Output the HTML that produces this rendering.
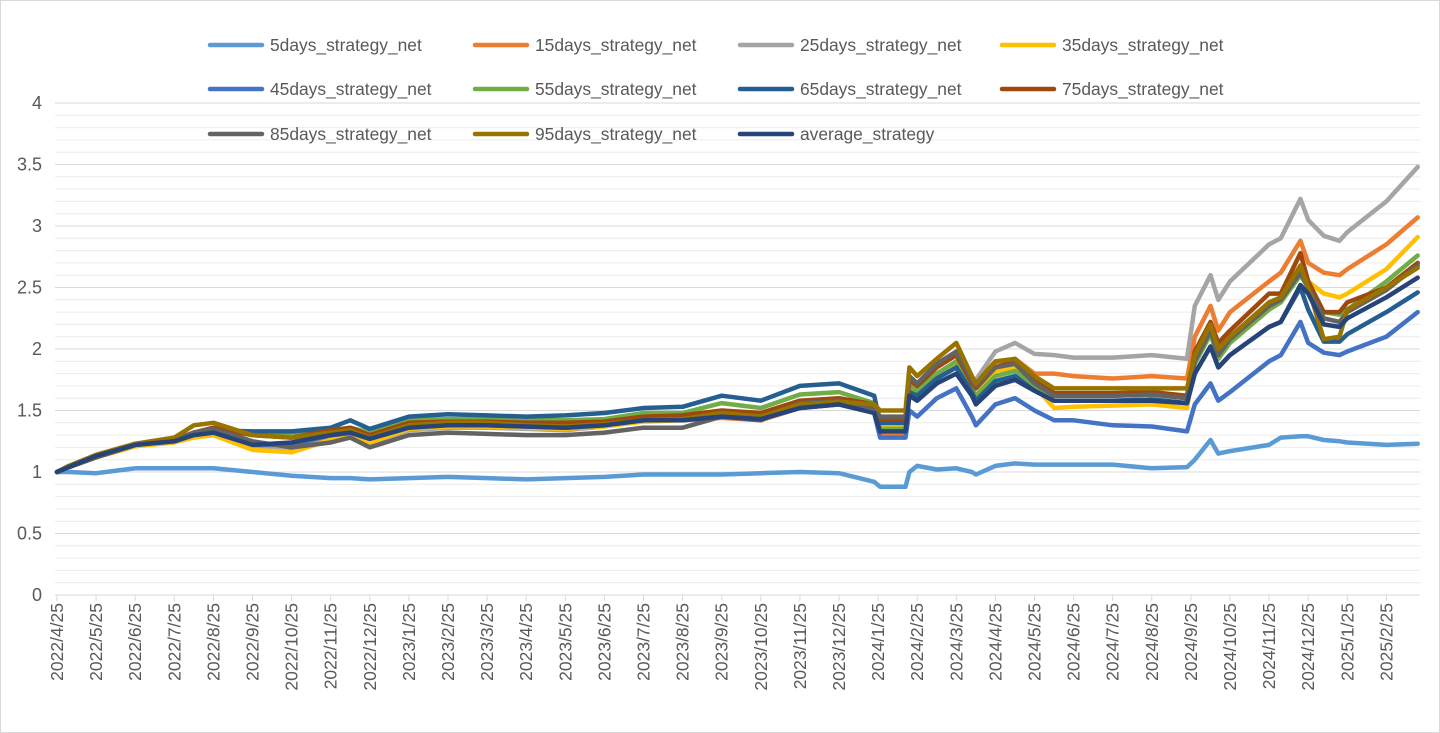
<!DOCTYPE html>
<html><head><meta charset="utf-8"><style>
html,body{margin:0;padding:0;background:#fff;}
svg{display:block;font-family:"Liberation Sans",sans-serif;}
</style></head><body>
<svg id="chart" width="1440" height="733" viewBox="0 0 1440 733" xmlns="http://www.w3.org/2000/svg">
<rect x="0.5" y="0.5" width="1439" height="732" fill="#fff" stroke="#d9d9d9"/>
<g id="grid"></g>
<g id="yaxis"></g>
<g id="xaxis"></g>
<g id="series"></g>
<g id="legend"></g>
</svg>
<script>
const monthLabels=["2022/4/25","2022/5/25","2022/6/25","2022/7/25","2022/8/25","2022/9/25","2022/10/25","2022/11/25","2022/12/25","2023/1/25","2023/2/25","2023/3/25","2023/4/25","2023/5/25","2023/6/25","2023/7/25","2023/8/25","2023/9/25","2023/10/25","2023/11/25","2023/12/25","2024/1/25","2024/2/25","2024/3/25","2024/4/25","2024/5/25","2024/6/25","2024/7/25","2024/8/25","2024/9/25","2024/10/25","2024/11/25","2024/12/25","2025/1/25","2025/2/25"];
const yTicks=[0,0.5,1,1.5,2,2.5,3,3.5,4];
const seriesNames=["5days_strategy_net","15days_strategy_net","25days_strategy_net","35days_strategy_net","45days_strategy_net","55days_strategy_net","65days_strategy_net","75days_strategy_net","85days_strategy_net","95days_strategy_net","average_strategy"];
const seriesColors=["#5B9BD5","#ED7D31","#A5A5A5","#FFC000","#4472C4","#70AD47","#255E91","#9E480E","#636363","#997300","#264478"];
// time in months since 2022/4/25
const T=[0,0.3,1,2,3,3.5,4,5,6,7,7.5,8,9,10,11,12,13,14,15,16,17,18,19,20,20.9,21.05,21.7,21.8,22,22.5,23,23.4,23.5,24,24.5,25,25.5,26,27,28,28.9,29.1,29.5,29.7,30,31,31.3,31.8,32,32.4,32.8,33,34,34.8];
const s5=[1.0,1.0,0.99,1.03,1.03,1.03,1.03,1.0,0.97,0.95,0.95,0.94,0.95,0.96,0.95,0.94,0.95,0.96,0.98,0.98,0.98,0.99,1.0,0.99,0.92,0.88,0.88,1.0,1.05,1.02,1.03,1.0,0.98,1.05,1.07,1.06,1.06,1.06,1.06,1.03,1.04,1.10,1.26,1.15,1.17,1.22,1.28,1.29,1.29,1.26,1.25,1.24,1.22,1.23];
const s15=[1.0,1.04,1.12,1.21,1.25,1.32,1.34,1.22,1.22,1.28,1.30,1.26,1.36,1.38,1.38,1.37,1.37,1.38,1.42,1.42,1.44,1.42,1.52,1.55,1.50,1.30,1.30,1.68,1.62,1.78,1.85,1.65,1.70,1.88,1.92,1.80,1.80,1.78,1.76,1.78,1.76,2.10,2.35,2.15,2.30,2.55,2.62,2.88,2.70,2.62,2.60,2.65,2.85,3.07];
const s25=[1.0,1.04,1.12,1.22,1.26,1.30,1.33,1.20,1.18,1.26,1.28,1.22,1.34,1.36,1.36,1.35,1.34,1.37,1.42,1.43,1.48,1.45,1.56,1.58,1.52,1.38,1.38,1.70,1.72,1.85,1.95,1.70,1.75,1.98,2.05,1.96,1.95,1.93,1.93,1.95,1.92,2.35,2.60,2.40,2.55,2.85,2.90,3.22,3.05,2.92,2.88,2.95,3.20,3.48];
const s35=[1.0,1.04,1.12,1.21,1.24,1.28,1.30,1.18,1.16,1.26,1.28,1.24,1.35,1.37,1.37,1.36,1.35,1.37,1.41,1.42,1.45,1.43,1.53,1.56,1.50,1.36,1.36,1.66,1.65,1.78,1.88,1.65,1.62,1.82,1.85,1.70,1.52,1.53,1.54,1.55,1.52,1.90,2.15,1.95,2.08,2.35,2.40,2.62,2.55,2.45,2.42,2.45,2.65,2.91];
const s45=[1.0,1.04,1.12,1.22,1.25,1.32,1.33,1.22,1.22,1.30,1.32,1.27,1.37,1.38,1.38,1.37,1.36,1.38,1.42,1.42,1.45,1.43,1.52,1.55,1.48,1.28,1.28,1.50,1.45,1.60,1.68,1.45,1.38,1.55,1.60,1.50,1.42,1.42,1.38,1.37,1.33,1.55,1.72,1.58,1.65,1.90,1.95,2.22,2.05,1.97,1.95,1.98,2.10,2.30];
const s55=[1.0,1.04,1.12,1.22,1.26,1.32,1.35,1.30,1.32,1.32,1.36,1.32,1.42,1.43,1.43,1.42,1.42,1.43,1.48,1.48,1.56,1.52,1.63,1.65,1.56,1.35,1.35,1.70,1.66,1.80,1.90,1.68,1.62,1.78,1.82,1.70,1.62,1.62,1.62,1.63,1.60,1.88,2.12,1.92,2.05,2.32,2.38,2.60,2.50,2.30,2.28,2.32,2.55,2.76];
const s65=[1.0,1.04,1.12,1.22,1.26,1.32,1.34,1.33,1.33,1.36,1.42,1.35,1.45,1.47,1.46,1.45,1.46,1.48,1.52,1.53,1.62,1.58,1.70,1.72,1.62,1.40,1.40,1.65,1.62,1.76,1.85,1.65,1.58,1.74,1.78,1.66,1.58,1.58,1.58,1.59,1.56,1.80,2.02,1.85,1.95,2.18,2.22,2.50,2.32,2.06,2.06,2.12,2.30,2.46];
const s75=[1.0,1.04,1.12,1.22,1.26,1.32,1.36,1.30,1.28,1.34,1.36,1.30,1.40,1.41,1.41,1.40,1.40,1.41,1.45,1.46,1.50,1.48,1.58,1.60,1.55,1.43,1.43,1.75,1.70,1.85,1.95,1.72,1.68,1.85,1.90,1.76,1.64,1.64,1.64,1.65,1.62,1.98,2.22,2.05,2.15,2.45,2.45,2.78,2.55,2.30,2.30,2.38,2.50,2.70];
const s85=[1.0,1.04,1.12,1.22,1.26,1.32,1.35,1.25,1.20,1.24,1.28,1.20,1.30,1.32,1.31,1.30,1.30,1.32,1.36,1.36,1.45,1.42,1.56,1.58,1.52,1.45,1.45,1.78,1.72,1.88,1.98,1.75,1.70,1.85,1.88,1.72,1.62,1.62,1.62,1.63,1.60,1.90,2.15,1.95,2.08,2.35,2.40,2.62,2.50,2.25,2.22,2.30,2.48,2.68];
const s95=[1.0,1.05,1.14,1.23,1.28,1.38,1.40,1.30,1.28,1.32,1.34,1.28,1.38,1.40,1.40,1.38,1.37,1.39,1.42,1.43,1.48,1.45,1.55,1.57,1.55,1.50,1.50,1.85,1.78,1.92,2.05,1.78,1.72,1.90,1.92,1.78,1.68,1.68,1.68,1.68,1.68,1.95,2.20,2.00,2.10,2.38,2.42,2.68,2.50,2.08,2.10,2.32,2.50,2.66];
const sAvg=[1.0,1.04,1.13,1.22,1.25,1.30,1.32,1.22,1.24,1.30,1.32,1.27,1.36,1.38,1.38,1.37,1.36,1.38,1.42,1.42,1.45,1.43,1.52,1.55,1.48,1.33,1.33,1.62,1.58,1.72,1.80,1.62,1.55,1.70,1.75,1.66,1.58,1.58,1.58,1.58,1.56,1.80,2.02,1.85,1.95,2.18,2.22,2.52,2.45,2.20,2.18,2.25,2.42,2.58];
const allSeries=[s5,s15,s25,s35,s45,s55,s65,s75,s85,s95,sAvg];

const NS="http://www.w3.org/2000/svg";
const X0=57,MW=39.1,Y0=595,YU=123,XR=1420;
const xs=m=>X0+m*MW, ys=v=>Y0-v*YU;
function mk(tag,attrs,parent){const e=document.createElementNS(NS,tag);for(const k in attrs)e.setAttribute(k,attrs[k]);parent.appendChild(e);return e;}
const grid=document.getElementById('grid'),yaxis=document.getElementById('yaxis'),xaxis=document.getElementById('xaxis'),ser=document.getElementById('series'),leg=document.getElementById('legend');
for(let i=1;i<=40;i++){const v=i/10;const major=(i%5===0);
 const l=mk('line',{x1:X0-2,x2:XR,y1:ys(v),y2:ys(v),stroke:major?'#d9d9d9':'#ececec','stroke-width':1},grid);
 
 }
yTicks.forEach(v=>{const t=mk('text',{x:42,y:ys(v)+6,'text-anchor':'end','font-size':18,fill:'#595959'},yaxis);t.textContent=String(v);
 
 });
const ax=mk('line',{x1:X0-2,x2:XR,y1:Y0,y2:Y0,stroke:'#d9d9d9','stroke-width':1},xaxis);


monthLabels.forEach((lab,i)=>{const x=xs(i);
 const tk=mk('line',{x1:x,x2:x,y1:Y0,y2:Y0+6,stroke:'#d9d9d9'},xaxis);
 
 
 const t=mk('text',{x:0,y:0,'text-anchor':'end','font-size':17.5,fill:'#595959',transform:`translate(${x+6},603) rotate(-90)`},xaxis);t.textContent=lab;
 
 });
allSeries.forEach((arr,si)=>{const pts=arr.map((v,i)=>xs(T[i]).toFixed(1)+','+ys(v).toFixed(1)).join(' ');
 const p=mk('polyline',{points:pts,fill:'none',stroke:seriesColors[si],'stroke-width':4.5,'stroke-linejoin':'round','stroke-linecap':'round'},ser);
 
 });
const colX=[210,475,740,1002],rowY=[45,89,134];
seriesNames.forEach((n,i)=>{const cx=colX[i%4],cy=rowY[Math.floor(i/4)];
 const g=mk('g',{},leg);
 
 
 mk('line',{x1:cx,x2:cx+52,y1:cy,y2:cy,stroke:seriesColors[i],'stroke-width':4.5,'stroke-linecap':'round'},g);
 const t=mk('text',{x:cx+60,y:cy+6,'font-size':17.4,fill:'#595959'},g);t.textContent=n;});
</script>
</body></html>
